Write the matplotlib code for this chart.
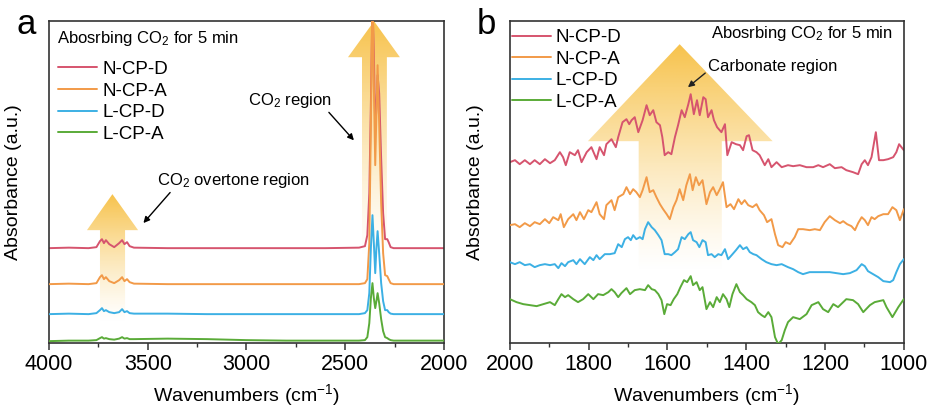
import numpy as np
import matplotlib.pyplot as plt
from matplotlib.patches import Polygon

plt.rcParams['font.family'] = ['Liberation Sans', 'DejaVu Sans']
plt.rcParams['mathtext.fontset'] = 'custom'
plt.rcParams['mathtext.rm'] = 'Liberation Sans'
plt.rcParams['mathtext.default'] = 'regular'

labels = ['N-CP-D', 'N-CP-A', 'L-CP-D', 'L-CP-A']
colors = ['#d6546e', '#f29a48', '#3cb0e4', '#5aab38']

# ---- (a) 4000-2000 cm-1, stacked spectra (offset a.u.)
wn_a = [4000, 3900, 3800, 3760, 3742, 3732, 3722, 3712, 3695, 3670, 3645, 3630, 3618, 3605,
        3592, 3570, 3400, 3200, 3000, 2800, 2600, 2430, 2400, 2388, 2378, 2370, 2362, 2355,
        2348, 2342, 2336, 2328, 2318, 2308, 2298, 2287, 2280, 2270, 2255, 2000]
a_ncpd = [95, 95.5, 95, 96, 102, 104, 100, 103, 99, 96, 100, 103, 99, 101, 97, 95.5, 95, 95,
          95, 95, 95, 95.5, 97, 108, 150, 240, 340, 290, 215, 235, 268, 250, 185, 130, 104, 104,
          101, 96, 95, 95]
a_ncpa = [59, 59.5, 59, 60, 66, 68, 64, 66, 62, 60, 63, 66, 62, 64, 61, 59.5, 59, 59, 59, 59,
          59, 59, 60, 64, 100, 220, 360, 260, 178, 230, 278, 220, 140, 90, 68, 67, 64, 60, 59, 59]
a_lcpd = [29, 29.5, 29, 30, 33, 35, 32, 33, 31, 30, 31, 34, 31, 32, 30, 29.5, 29.5, 29, 29, 29,
          29, 29, 30, 33, 50, 95, 128, 100, 70, 95, 112, 90, 60, 42, 33, 33, 31, 29.5, 29, 29]
a_lcpa = [2, 2.5, 2.5, 3, 5, 6, 4.5, 5, 4, 3.5, 4.5, 6, 4.5, 5, 4, 4, 4.5, 4, 3, 2.5, 2.5, 2.5,
          3, 6, 20, 45, 60, 45, 35, 42, 50, 40, 24, 12, 6, 5, 4, 3, 2.5, 2.5]

# ---- (b) 2000-1000 cm-1
wn_b_ncpd = [2000, 1987, 1975, 1962, 1949, 1937, 1924, 1911, 1898, 1886, 1873, 1865, 1858, 1848,
             1835, 1827, 1818, 1805, 1793, 1780, 1772, 1761, 1755, 1742, 1731, 1725, 1714, 1704,
             1697, 1691, 1683, 1674, 1663, 1653, 1645, 1636, 1628, 1619, 1613, 1607, 1598, 1590,
             1581, 1573, 1564, 1556, 1547, 1541, 1533, 1525, 1518, 1509, 1503, 1497, 1488, 1482,
             1474, 1463, 1454, 1448, 1437, 1426, 1416, 1408, 1399, 1393, 1384, 1374, 1366, 1353,
             1344, 1336, 1323, 1310, 1294, 1281, 1264, 1247, 1230, 1217, 1205, 1188, 1175, 1158,
             1146, 1129, 1116, 1107, 1099, 1091, 1082, 1071, 1063, 1052, 1040, 1027, 1019, 1012, 1000]
b_ncpd = [181, 183, 179, 183, 179, 183, 179, 184, 180, 183, 191, 186, 178, 191, 188, 193, 181,
          191, 196, 184, 196, 188, 199, 204, 196, 206, 221, 224, 219, 223, 226, 211, 223, 238,
          228, 233, 221, 218, 206, 188, 191, 189, 206, 218, 233, 226, 239, 249, 229, 243, 228,
          246, 244, 226, 233, 223, 216, 211, 219, 188, 201, 199, 198, 193, 207, 208, 193, 191,
          188, 178, 184, 176, 181, 176, 178, 177, 178, 176, 176, 178, 176, 179, 175, 176, 173,
          171, 169, 179, 183, 178, 186, 211, 183, 183, 184, 186, 191, 199, 193]

wn_b_ncpa = [2000, 1987, 1975, 1962, 1949, 1937, 1924, 1911, 1900, 1890, 1877, 1871, 1863, 1852,
             1839, 1831, 1822, 1812, 1801, 1793, 1780, 1772, 1761, 1755, 1742, 1734, 1725, 1712,
             1704, 1695, 1687, 1679, 1670, 1663, 1653, 1645, 1636, 1628, 1619, 1611, 1602, 1594,
             1585, 1577, 1569, 1560, 1552, 1543, 1536, 1528, 1520, 1511, 1501, 1492, 1484, 1475,
             1467, 1459, 1450, 1440, 1431, 1420, 1412, 1404, 1395, 1384, 1374, 1366, 1355, 1347,
             1336, 1327, 1319, 1308, 1300, 1289, 1277, 1268, 1256, 1239, 1226, 1213, 1201, 1188,
             1175, 1162, 1154, 1144, 1133, 1124, 1116, 1107, 1099, 1091, 1082, 1074, 1065, 1052,
             1040, 1029, 1019, 1010, 1000]
b_ncpa = [118, 119, 116, 120, 117, 121, 119, 124, 120, 126, 123, 129, 116, 124, 129, 123, 131,
          124, 133, 131, 141, 129, 124, 138, 143, 133, 146, 149, 156, 149, 154, 151, 146, 153,
          166, 151, 153, 146, 139, 134, 129, 124, 136, 143, 154, 143, 158, 169, 153, 166, 158,
          163, 139, 151, 156, 148, 154, 161, 136, 139, 134, 144, 139, 143, 138, 136, 139, 133,
          128, 121, 124, 109, 98, 96, 101, 99, 106, 114, 114, 113, 114, 113, 121, 127, 123, 120,
          122, 119, 117, 113, 120, 126, 123, 118, 126, 124, 127, 129, 129, 136, 133, 123, 134]

wn_b_lcpd = [2000, 1987, 1975, 1962, 1949, 1937, 1924, 1911, 1898, 1886, 1877, 1869, 1860, 1852,
             1839, 1831, 1822, 1810, 1797, 1788, 1780, 1772, 1759, 1746, 1734, 1725, 1716, 1708,
             1700, 1693, 1687, 1679, 1670, 1663, 1657, 1649, 1640, 1632, 1623, 1615, 1607, 1598,
             1590, 1581, 1573, 1564, 1556, 1547, 1541, 1535, 1526, 1519, 1511, 1503, 1497, 1488,
             1480, 1471, 1463, 1454, 1446, 1437, 1426, 1416, 1408, 1399, 1391, 1382, 1374, 1361,
             1349, 1336, 1323, 1310, 1294, 1281, 1268, 1256, 1239, 1222, 1205, 1188, 1171, 1154,
             1137, 1120, 1107, 1099, 1091, 1078, 1065, 1052, 1035, 1027, 1019, 1010, 1000]
b_lcpd = [81, 79, 81, 78, 79, 76, 78, 79, 78, 79, 75, 80, 77, 81, 83, 79, 84, 79, 86, 83, 88,
          84, 89, 89, 90, 99, 96, 104, 106, 103, 108, 104, 106, 104, 114, 121, 116, 113, 108,
          103, 89, 89, 88, 91, 94, 106, 104, 109, 111, 103, 101, 96, 103, 101, 88, 89, 86, 89,
          88, 94, 84, 88, 93, 98, 94, 96, 91, 89, 88, 84, 81, 79, 78, 79, 76, 74, 71, 69, 71,
          71, 71, 71, 70, 69, 70, 73, 79, 77, 72, 69, 66, 62, 61, 63, 71, 79, 84]

wn_b_lcpa = [2000, 1983, 1966, 1949, 1932, 1915, 1898, 1886, 1877, 1869, 1860, 1852, 1839, 1827,
             1814, 1801, 1788, 1776, 1763, 1750, 1742, 1734, 1725, 1717, 1704, 1695, 1683, 1670,
             1657, 1649, 1640, 1632, 1623, 1615, 1608, 1601, 1592, 1584, 1575, 1567, 1558, 1550,
             1541, 1535, 1526, 1518, 1511, 1501, 1492, 1484, 1475, 1467, 1459, 1450, 1443, 1435,
             1425, 1416, 1408, 1399, 1387, 1378, 1370, 1361, 1353, 1344, 1336, 1327, 1319, 1310,
             1302, 1294, 1281, 1264, 1247, 1234, 1217, 1205, 1192, 1179, 1167, 1146, 1129, 1116,
             1103, 1086, 1074, 1052, 1044, 1029, 1014, 1000]
b_lcpa = [44, 41, 39, 38, 37, 39, 41, 38, 44, 49, 46, 48, 44, 41, 44, 49, 44, 49, 48, 51, 54,
          51, 46, 50, 55, 49, 53, 54, 53, 58, 54, 53, 49, 43, 29, 39, 38, 44, 49, 56, 63, 61,
          67, 58, 61, 53, 56, 34, 41, 36, 46, 41, 49, 44, 36, 49, 59, 51, 48, 44, 41, 38, 31,
          28, 26, 31, 26, 6, -1, 3, 13, 21, 26, 24, 29, 38, 41, 34, 31, 39, 36, 44, 43, 39, 31,
          38, 41, 43, 36, 26, 36, 44]


def gradient_arrow(ax, shaft, head, tip_x, y_bot, y_neck, y_tip):
    verts = [(shaft[0], y_bot), (shaft[0], y_neck), (head[0], y_neck), (tip_x, y_tip),
             (head[1], y_neck), (shaft[1], y_neck), (shaft[1], y_bot)]
    poly = Polygon(verts, closed=True, facecolor='none', edgecolor='none')
    ax.add_patch(poly)
    t = np.linspace(0, 1, 256)[:, None]
    img = np.zeros((256, 1, 4))
    img[..., 0] = 0.965
    img[..., 1] = 0.73
    img[..., 2] = 0.2
    img[..., 3] = 0.88 * t ** 1.3
    im = ax.imshow(img, extent=[min(head), max(head), y_bot, y_tip], origin='lower',
                   aspect='auto', interpolation='bilinear', zorder=1)
    im.set_clip_path(poly)


def style_axes(ax):
    for s in ax.spines.values():
        s.set_color('#333333')
        s.set_linewidth(1.2)
    ax.set_yticks([])
    ax.tick_params(axis='x', which='major', direction='out', length=5, width=1.1,
                   labelsize=15.5, colors='#333333', labelcolor='black', pad=3)
    ax.tick_params(axis='x', which='minor', direction='out', length=3, width=1.0,
                   colors='#333333')
    ax.set_xlabel('Wavenumbers (cm$^{-1}$)', fontsize=14, labelpad=5)
    ax.set_ylabel('Absorbance (a.u.)', fontsize=14)


def add_legend(ax, anchor):
    ax.legend(loc='upper left', bbox_to_anchor=anchor, frameon=False, fontsize=13.5,
              handlelength=2.08, handletextpad=0.27, labelspacing=0.24, borderpad=0,
              borderaxespad=0)


fig = plt.figure(figsize=(9.27, 4.08), dpi=100)
ax1 = fig.add_axes([0.0529, 0.159, 0.426, 0.789])
ax2 = fig.add_axes([0.550, 0.159, 0.425, 0.789])
line_kw = dict(lw=1.4, solid_joinstyle='round', solid_capstyle='round')

# panel a
gradient_arrow(ax1, (3742, 3615), (3808, 3549), 3679, 20, 113, 149)
gradient_arrow(ax1, (2415, 2289), (2486, 2223), 2354, 85, 286, 322)
series_a = [a_ncpd, a_ncpa, a_lcpd, a_lcpa]
for i, (lab, col, y) in enumerate(zip(labels, colors, series_a)):
    ax1.plot(wn_a, y, color=col, label=lab, zorder=2 + i, **line_kw)
ax1.set_xlim(4000, 2000)
ax1.set_ylim(0, 322)
ax1.set_xticks(np.arange(4000, 1999, -500))
ax1.set_xticks(np.arange(3750, 2000, -500), minor=True)
style_axes(ax1)
ax1.yaxis.set_label_coords(-0.068, 0.5)
add_legend(ax1, (0.023, 0.877))
ax1.text(0.02, 0.947, 'Abosrbing CO$_2$ for 5 min', transform=ax1.transAxes, fontsize=12,
         va='center', ha='left')
ax1.annotate('CO$_2$ region', xy=(0.772, 0.630), xytext=(0.503, 0.755),
             xycoords='axes fraction', textcoords='axes fraction', fontsize=12,
             va='center', ha='left',
             arrowprops=dict(arrowstyle='-|>', color='black', lw=1.0, mutation_scale=9,
                             shrinkA=0, shrinkB=0, relpos=(0.94, 0.0)))
ax1.annotate('CO$_2$ overtone region', xy=(0.239, 0.373), xytext=(0.274, 0.506),
             xycoords='axes fraction', textcoords='axes fraction', fontsize=12,
             va='center', ha='left',
             arrowprops=dict(arrowstyle='-|>', color='black', lw=1.0, mutation_scale=9,
                             shrinkA=0, shrinkB=0, relpos=(0.1, 0.0)))
fig.text(16 / 927, 1 - 25 / 408, 'a', fontsize=25, ha='left', va='center')

# panel b
gradient_arrow(ax2, (1673, 1462), (1802, 1333), 1569, 70, 202, 299)
series_b = [(wn_b_ncpd, b_ncpd), (wn_b_ncpa, b_ncpa), (wn_b_lcpd, b_lcpd), (wn_b_lcpa, b_lcpa)]
for i, (lab, col, (x, y)) in enumerate(zip(labels, colors, series_b)):
    ax2.plot(x, y, color=col, label=lab, zorder=2 + i, **line_kw)
ax2.set_xlim(2000, 1000)
ax2.set_ylim(0, 322)
ax2.set_xticks(np.arange(2000, 999, -200))
ax2.set_xticks(np.arange(1900, 1000, -200), minor=True)
style_axes(ax2)
ax2.yaxis.set_label_coords(-0.066, 0.5)
add_legend(ax2, (0.005, 0.976))
ax2.text(0.972, 0.963, 'Abosrbing CO$_2$ for 5 min', transform=ax2.transAxes, fontsize=12,
         va='center', ha='right')
ax2.annotate('Carbonate region', xy=(0.452, 0.795), xytext=(0.503, 0.860),
             xycoords='axes fraction', textcoords='axes fraction', fontsize=12,
             va='center', ha='left',
             arrowprops=dict(arrowstyle='-|>', color='#222222', lw=1.0, mutation_scale=9,
                             shrinkA=0, shrinkB=0, relpos=(0.0, 0.2)))
fig.text(477 / 927, 1 - 25 / 408, 'b', fontsize=25, ha='left', va='center')

fig.savefig('out.png', dpi=100)
